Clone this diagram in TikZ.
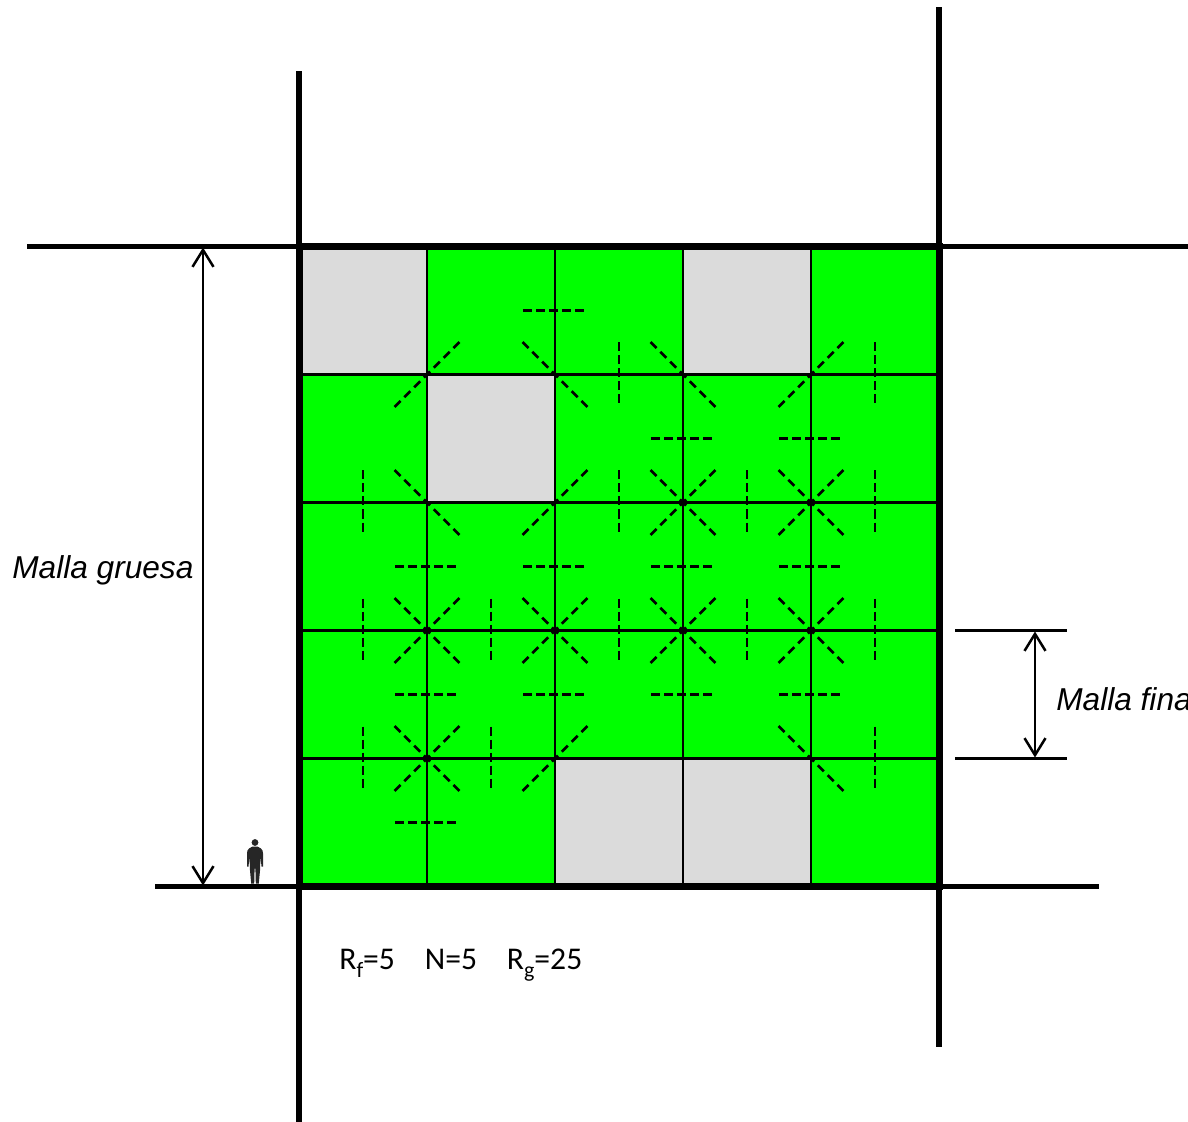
\documentclass[tikz,border=0pt]{standalone}
\usepackage{fontspec}
\setmainfont{Liberation Sans}
\newfontfamily\labelfont{Carlito}
\usetikzlibrary{arrows.meta}
\newcommand{\idx}[1]{\raisebox{-0.55ex}{\fontsize{12.5}{12.5}\selectfont #1}}

\begin{document}
\begin{tikzpicture}[
  x=0.2mm, y=-0.2mm,
  road/.style={line width=1.12mm},
  grid line/.style={line width=0.46mm},
  flag/.style={line width=0.58mm, dash pattern=on 1.8mm off 0.8mm},
  slant/.style={line width=0.54mm, dash pattern=on 1.7mm off 1.08mm},
  tick/.style={line width=0.42mm},
  span/.style={line width=0.5mm, {Straight Barb[length=3.4mm,width=4.2mm]}-{Straight Barb[length=3.4mm,width=4.2mm]}},
  mesh/.style={font=\fontsize{18}{18}\selectfont\itshape, inner sep=0pt, anchor=base west}
]
  \useasboundingbox (0,-0.5) rectangle (1188,1121.5);
  % cells
  \fill[green] (299,246) rectangle (939,886);
  \foreach \cx/\cy in {299/246, 683/246, 427/374, 555/758, 683/758}
    \fill[black!14] (\cx,\cy) rectangle ++(128,128);
  \foreach \k in {427,555,683,811}
    \draw[grid line] (\k,246) -- (\k,886);
  \foreach \k in {374,502,630,758}
    \draw[grid line] (299,\k) -- (939,\k);
  % flagged edges
  \foreach \fx/\fy in {555/310, 683/438, 811/438, 427/566, 555/566, 683/566, 811/566,
                       427/694, 555/694, 683/694, 811/694, 427/822}
    \draw[flag] (\fx-32,\fy) -- (\fx+30,\fy);
  \foreach \fx/\fy in {619/374, 875/374, 363/502, 619/502, 747/502, 875/502,
                       363/630, 491/630, 619/630, 747/630, 875/630, 363/758, 491/758, 875/758}
    \draw[flag] (\fx,\fy-32) -- (\fx,\fy+30);
  \foreach \fx/\fy in {427/374, 811/374, 555/502, 683/502, 811/502, 427/630, 555/630,
                       683/630, 811/630, 427/758, 555/758}
    \draw[slant] (\fx-32.5,\fy+32.5) -- (\fx+32.5,\fy-32.5);
  \foreach \fx/\fy in {555/374, 683/374, 427/502, 683/502, 811/502, 427/630, 555/630,
                       683/630, 811/630, 427/758, 811/758}
    \draw[slant] (\fx-32.5,\fy-32.5) -- (\fx+32.5,\fy+32.5);
  % coarse lines
  \draw[road] (27,246) -- (1188,246);
  \draw[road] (155,886) -- (1099,886);
  \draw[road] (299,71) -- (299,1122);
  \draw[road] (939,7) -- (939,1046);
  \draw[line width=1.4mm] (299,246) rectangle (939,886);
  % dimensions
  \coordinate (coarsetop) at (203,247);
  \coordinate (coarsebot) at (203,885);
  \draw[span] (coarsetop) -- (coarsebot);
  \node[mesh] (coarse) at (12,578) {Malla gruesa};
  \coordinate (finetop) at (1035,631);
  \coordinate (finebot) at (1035,757);
  \draw[span] (finetop) -- (finebot);
  \draw[tick] (955,630) -- (1067,630);
  \draw[tick] (955,758) -- (1067,758);
  \node[mesh] (fine) at (1056,710) {Malla fina};
  % ratios
  \node[anchor=base west, inner sep=0pt, font=\labelfont\fontsize{18}{18}\selectfont] (ratios) at (339,969)
    {R\idx{f}=5\hspace{17pt}N=5\hspace{17pt}R\idx{g}=25};
  % person
  \fill[black!85] (255,842) circle (3.4);
  \fill[black!85] (252.5,846) -- (257.5,846) -- (261,848) .. controls (262.5,849) and (263,851) .. (263,853)
    -- (263,866) -- (261.5,866) -- (260.5,856) -- (260,870) -- (258.8,883) -- (255.8,883) -- (255.4,868)
    -- (254.6,868) -- (254.2,883) -- (251.2,883) -- (250,870) -- (249.5,856) -- (248.5,866) -- (247,866)
    -- (247,853) .. controls (247,851) and (247.5,849) .. (249,848) -- cycle;
\end{tikzpicture}
\end{document}
